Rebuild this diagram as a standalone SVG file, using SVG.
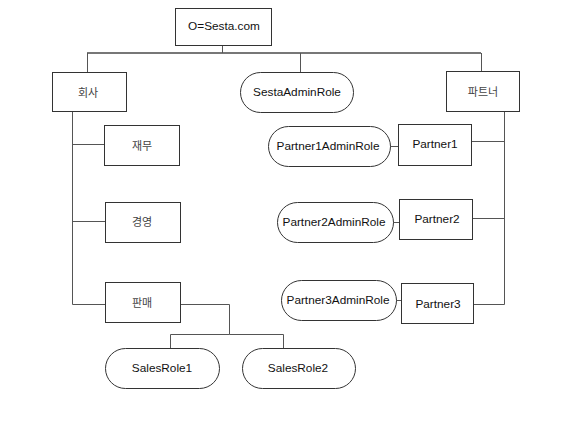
<svg xmlns="http://www.w3.org/2000/svg" width="584" height="437" viewBox="0 0 584 437">
<style>
.box{fill:#fff;stroke:#333;stroke-width:1}
.t{font-family:"Liberation Sans",Arial,sans-serif;font-size:11.8px;fill:#111;text-anchor:middle;dominant-baseline:central}
.k{font-family:"Noto Sans CJK KR","Liberation Sans",sans-serif;font-size:11px;fill:#444;text-anchor:middle;dominant-baseline:central}
.c{fill:none;stroke:#555;stroke-width:1}
.bus{fill:none;stroke:#777;stroke-width:2}
</style>
<rect width="584" height="437" fill="#fff"/>
<g id="connectors">
<path class="bus" d="M87,53H481"/>
<path class="c" d="M222.5,45V53M87.5,53V72M300.5,53V72M481.5,53V71"/>
<path class="c" d="M72.5,112V304.5H105M72.5,144.5H104M72.5,221.5H105"/>
<path class="c" d="M180,304.5H229.5V334.5H170.5V348M229.5,334.5H283.5V348"/>
<path class="c" d="M504.5,111V304.5H473M504.5,141.5H471M504.5,218.5H472"/>
<path class="c" d="M390,146.5H398M393,222.5H399M396,300.5H401"/>
</g>
<g id="root"><rect class="box" x="175.5" y="8.5" width="96" height="37"/><text class="t" x="224" y="26">O=Sesta.com</text></g>
<g id="company"><rect class="box" x="52.5" y="72.5" width="74" height="39"/><text class="k" x="88" y="92">회사</text></g>
<g id="sestaadminrole"><rect class="box" x="240.5" y="72.5" width="113" height="40" rx="20"/><text class="t" x="297" y="92">SestaAdminRole</text></g>
<g id="partner"><rect class="box" x="446.5" y="71.5" width="73" height="40"/><text class="k" x="483" y="91">파트너</text></g>
<g id="finance"><rect class="box" x="104.5" y="125.5" width="75" height="40"/><text class="k" x="142" y="145">재무</text></g>
<g id="management"><rect class="box" x="105.5" y="202.5" width="75" height="40"/><text class="k" x="142" y="221">경영</text></g>
<g id="sales"><rect class="box" x="105.5" y="282.5" width="75" height="40"/><text class="k" x="142" y="302">판매</text></g>
<g id="salesrole1"><rect class="box" x="105.5" y="348.5" width="114" height="40" rx="20"/><text class="t" x="162" y="368">SalesRole1</text></g>
<g id="salesrole2"><rect class="box" x="242.5" y="348.5" width="113" height="40" rx="20"/><text class="t" x="298" y="368">SalesRole2</text></g>
<g id="partner1adminrole"><rect class="box" x="268.5" y="126.5" width="122" height="40" rx="20"/><text class="t" x="328" y="146">Partner1AdminRole</text></g>
<g id="partner1"><rect class="box" x="398.5" y="124.5" width="73" height="41"/><text class="t" x="435" y="144">Partner1</text></g>
<g id="partner2adminrole"><rect class="box" x="277.5" y="202.5" width="116" height="40" rx="20"/><text class="t" x="334" y="222">Partner2AdminRole</text></g>
<g id="partner2"><rect class="box" x="399.5" y="199.5" width="73" height="40"/><text class="t" x="437" y="219">Partner2</text></g>
<g id="partner3adminrole"><rect class="box" x="281.5" y="280.5" width="115" height="40" rx="20"/><text class="t" x="338" y="300">Partner3AdminRole</text></g>
<g id="partner3"><rect class="box" x="401.5" y="283.5" width="72" height="40"/><text class="t" x="438" y="304">Partner3</text></g>
</svg>
